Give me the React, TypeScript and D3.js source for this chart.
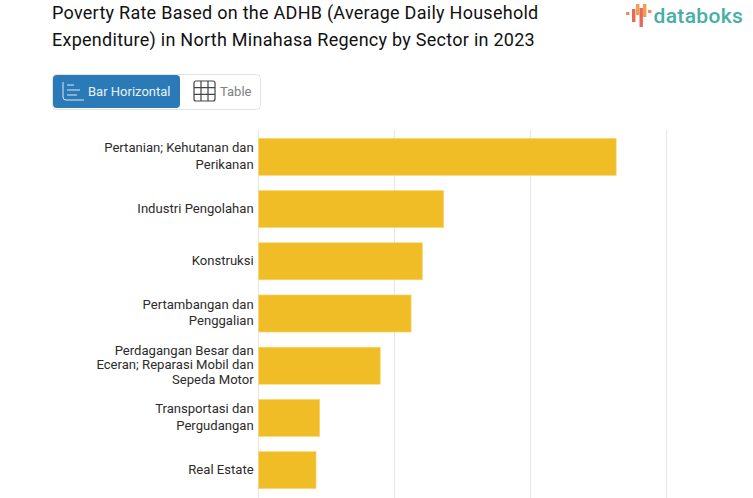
import React from "react";
import * as d3 from "d3";

const sectors = [
  ["Pertanian; Kehutanan dan", "Perikanan"],
  ["Industri Pengolahan"],
  ["Konstruksi"],
  ["Pertambangan dan", "Penggalian"],
  ["Perdagangan Besar dan", "Eceran; Reparasi Mobil dan", "Sepeda Motor"],
  ["Transportasi dan", "Pergudangan"],
  ["Real Estate"],
];
const values = [26.3, 13.62, 12.05, 11.22, 8.95, 4.5, 4.23];
const gridTicks = [0, 10, 20, 30];
const titleLines = [
  "Poverty Rate Based on the ADHB (Average Daily Household",
  "Expenditure) in North Minahasa Regency by Sector in 2023",
];
const logoBars = [
  [626, 12, 3, "#ef8a62"],
  [632, 9, 13, "#e8675a"],
  [636, 4, 11, "#f0a04b"],
  [639.5, 8, 19, "#e8675a"],
  [643, 4, 13, "#f0a04b"],
  [648, 10, 3, "#ef8a62"],
] as const;

export default function App() {
  const x = d3.scaleLinear().domain([0, 30]).range([258.5, 666.5]);
  const y = d3
    .scaleBand<number>()
    .domain(d3.range(sectors.length))
    .range([130.5, 496.5])
    .paddingInner(0.29)
    .paddingOuter(0.15);
  const font = "Roboto, sans-serif";
  return (
    <svg
      width={753}
      height={498}
      viewBox="0 0 753 498"
      style={{ position: "absolute", left: 0, top: 0, background: "#fff" }}
      fontFamily={font}
    >
      {titleLines.map((t, i) => (
        <text key={i} x={52} y={19 + i * 27} fontSize={18} fill="#111" letterSpacing={0.265}>
          {t}
        </text>
      ))}

      {logoBars.map(([lx, ly, lh, c], i) => (
        <rect key={i} x={lx} y={ly} width={3.4} height={lh} fill={c} />
      ))}
      <text x={653.5} y={23} fontSize={21} fontWeight={500} fill="#45aea6" letterSpacing={0.35}>
        databoks
      </text>

      <rect x={52.5} y={74.5} width={208} height={35} rx={4} fill="#fff" stroke="#e2e2e2" />
      <rect x={53} y={75} width={127} height={33} rx={4} fill="#2a7ab8" />
      <g stroke="#dbe9f4" strokeWidth={1} fill="none">
        <path d="M63 82 V97 Q63 100 66 100 H84" />
        <path d="M67 85 H74 M67 90 H80 M67 95 H77" />
      </g>
      <text x={88} y={96} fontSize={13} fill="#e8f1f8">Bar Horizontal</text>
      <g stroke="#444" strokeWidth={1.2} fill="none">
        <rect x={194} y={81} width={21} height={20} rx={2} />
        <path d="M201 81 V101 M208 81 V101 M194 87.7 H215 M194 94.3 H215" />
      </g>
      <text x={220} y={96} fontSize={13} fill="#808080">Table</text>

      {gridTicks.map((t) => (
        <line key={t} x1={x(t)} x2={x(t)} y1={130} y2={498} stroke="#e6e6e6" />
      ))}

      {values.map((v, i) => (
        <rect
          key={i}
          x={x(0)}
          y={y(i)}
          width={x(v) - x(0)}
          height={y.bandwidth()}
          fill="#f0bd27"
          stroke="#f7d778"
          strokeWidth={0.6}
        />
      ))}

      {sectors.map((lines, i) => {
        const cy = (y(i) as number) + y.bandwidth() / 2;
        const lh = lines.length === 3 ? 14.5 : 16.5;
        return (
          <text key={i} textAnchor="end" fontSize={13.1} fill="#2b2b2b">
            {lines.map((l, j) => (
              <tspan key={j} x={253.7} y={cy + 3.6 + (j - (lines.length - 1) / 2) * lh}>
                {l}
              </tspan>
            ))}
          </text>
        );
      })}
    </svg>
  );
}
